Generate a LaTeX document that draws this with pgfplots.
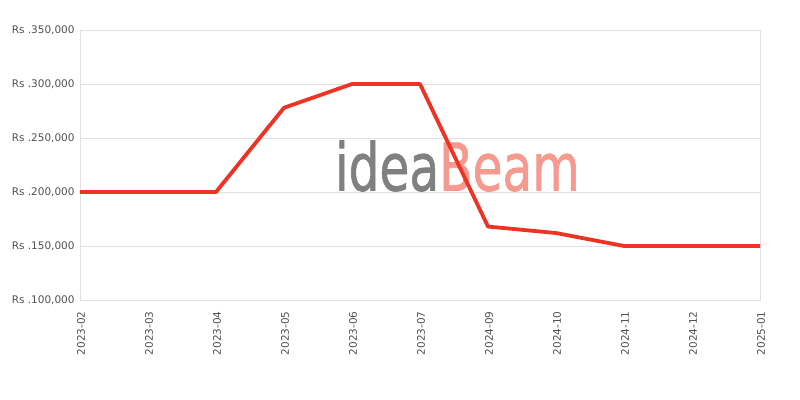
\documentclass[border=0pt]{standalone}
\usepackage{fontspec}
\setmainfont{DejaVu Sans}
\newfontfamily\wmfont[FakeBold=1.2]{DejaVu Sans}
\usepackage{graphicx}
\usepackage{pgfplots}
\pgfplotsset{compat=1.18}

\definecolor{linered}{RGB}{238,50,36}
\definecolor{gridgray}{RGB}{224,224,224}
\definecolor{labelgray}{RGB}{80,80,80}
\definecolor{wmgray}{RGB}{128,128,128}
\definecolor{wmsalmon}{RGB}{246,154,144}

\begin{document}
\begin{tikzpicture}
\path[use as bounding box] (-80bp,-100bp) rectangle (720bp,300bp);
\begin{axis}[
    at={(0,0)}, anchor=south west,
    scale only axis,
    width=680bp, height=270bp,
    xmin=0, xmax=10,
    ymin=100000, ymax=350000,
    scaled y ticks=false,
    xtick={0,...,10},
    xticklabels={2023-02,2023-03,2023-04,2023-05,2023-06,2023-07,2024-09,2024-10,2024-11,2024-12,2025-01},
    ytick={100000,150000,200000,250000,300000,350000},
    yticklabels={{Rs .100,000},{Rs .150,000},{Rs .200,000},{Rs .250,000},{Rs .300,000},{Rs .350,000}},
    tick label style={font=\fontsize{10.5}{12}\selectfont, text=labelgray},
    xticklabel style={rotate=90, anchor=east, yshift=-1bp, xshift=-8bp},
    yticklabel style={xshift=-2bp},
    major tick length=0pt,
    ymajorgrids=true,
    grid style={gridgray, line width=0.8pt},
    axis line style={gridgray, line width=0.8pt},
    clip=false,
]
\node[inner sep=0pt] at (axis cs:5.55,224000)
    {\scalebox{0.74}[1]{\fontsize{66}{66}\wmfont\textcolor{wmgray}{idea}\textcolor{wmsalmon}{Beam}}};
\addplot[linered, line width=3.8pt, line join=round] coordinates {
    (0,200000) (1,200000) (2,200000) (3,278000) (4,300000) (5,300000)
    (6,168000) (7,162000) (8,150000) (9,150000) (10,150000)
};
\end{axis}
\end{tikzpicture}
\end{document}
